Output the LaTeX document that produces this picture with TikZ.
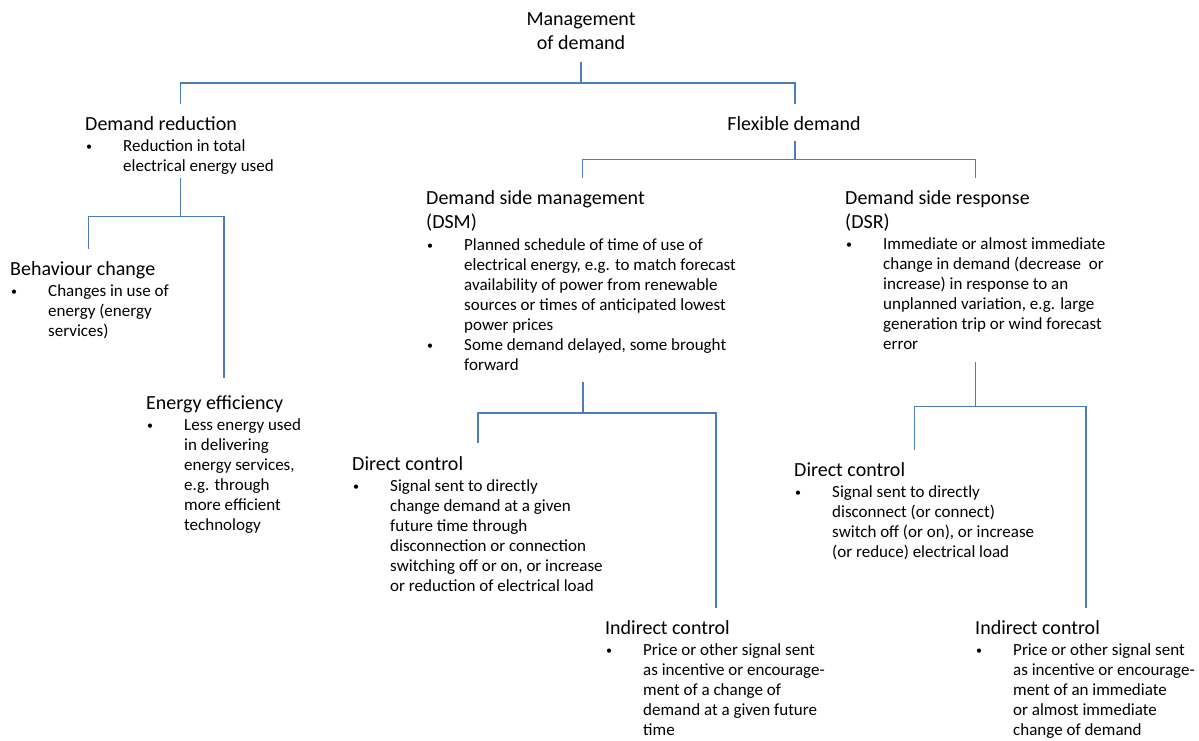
\documentclass[tikz,border=0pt]{standalone}
\usepackage{fontspec}
\setmainfont{Carlito}
\usetikzlibrary{positioning}
\definecolor{linkblue}{RGB}{74,126,187}
\newcommand{\itm}{\makebox[38pt][l]{\hspace{1pt}\raisebox{1pt}{\fontsize{12}{20}\selectfont\textbullet}}}
\newcommand{\blk}[1]{\begin{tabular}[t]{@{}l@{}l@{}}#1\end{tabular}}

\begin{document}
\begin{tikzpicture}[x=1pt,y=-1pt,
            head node/.style={inner sep=0pt,anchor=base west,font=\fontsize{20}{24}\selectfont},
            body node/.style={inner sep=0pt,anchor=base west,font=\fontsize{17}{20}\selectfont},
            link/.style={draw=linkblue,line width=1.8pt}]

            \useasboundingbox (0,0) rectangle (1199,740);

            \node[head node,anchor=base] (Mgmt) at (581,25) {\begin{tabular}[t]{@{}c@{}}Management\\of demand\end{tabular}};

            \node[head node] (Red) at (85,130) {Demand reduction};
            \node[body node] (RedTxt) at (85,151) {\blk{\itm & Reduction in total\\ & electrical energy used}};

            \node[head node] (Beh) at (10,275) {Behaviour change};
            \node[body node] (BehTxt) at (10,296) {\blk{\itm & Changes in use of\\ & energy (energy\\ & services)}};

            \node[head node] (Eff) at (146,409) {Energy efficiency};
            \node[body node] (EffTxt) at (146,430) {\blk{\itm & Less energy used\\ & in delivering\\ & energy services,\\ & e.g. through\\ & more efficient\\ & technology}};

            \node[head node,anchor=base] (Flex) at (794,130) {Flexible demand};

            \node[head node] (DSM) at (426,204) {\blk{Demand side management\\(DSM)}};
            \node[body node] (DSMTxt) at (426,250) {\blk{\itm & Planned schedule of time of use of\\ & electrical energy, e.g. to match forecast\\ & availability of power from renewable\\ & sources or times of anticipated lowest\\ & power prices\\ \itm & Some demand delayed, some brought\\ & forward}};

            \node[head node] (DSR) at (845,204) {\blk{Demand side response\\(DSR)}};
            \node[body node] (DSRTxt) at (845,249) {\blk{\itm & Immediate or almost immediate\\ & change in demand (decrease\ \ or\\ & increase) in response to an\\ & unplanned variation, e.g. large\\ & generation trip or wind forecast\\ & error}};

            \node[head node] (DirL) at (352,470) {Direct control};
            \node[body node] (DirLTxt) at (352,491) {\blk{\itm & Signal sent to directly\\ & change demand at a given\\ & future time through\\ & disconnection or connection\\ & switching off or on, or increase\\ & or reduction of electrical load}};

            \node[head node] (IndL) at (605,634) {Indirect control};
            \node[body node] (IndLTxt) at (605,655) {\blk{\itm & Price or other signal sent\\ & as incentive or encourage-\\ & ment of a change of\\ & demand at a given future\\ & time}};

            \node[head node] (DirR) at (794,476) {Direct control};
            \node[body node] (DirRTxt) at (794,497) {\blk{\itm & Signal sent to directly\\ & disconnect (or connect)\\ & switch off (or on), or increase\\ & (or reduce) electrical load}};

            \node[head node] (IndR) at (975,634) {Indirect control};
            \node[body node] (IndRTxt) at (975,655) {\blk{\itm & Price or other signal sent\\ & as incentive or encourage-\\ & ment of an immediate\\ & or almost immediate\\ & change of demand}};

            % stems and branch ends of the tree
            \coordinate (Mgmt-s) at (581,62);
            \coordinate (Red-n) at (180.5,104);
            \coordinate (Flex-n) at (795,104);
            \coordinate (Red-s) at (180.5,178);
            \coordinate (Beh-n) at (88.5,249);
            \coordinate (Eff-n) at (224,378);
            \coordinate (Flex-s) at (795,141);
            \coordinate (DSM-n) at (582.5,178);
            \coordinate (DSR-n) at (975.5,178);
            \coordinate (DSM-s) at (583,382);
            \coordinate (DirL-n) at (478,443);
            \coordinate (IndL-n) at (716,608);
            \coordinate (DSR-s) at (975.5,362);
            \coordinate (DirR-n) at (914.5,450);
            \coordinate (IndR-n) at (1086,608);

            \draw[link] (Mgmt-s) -- ++(0,21) -| (Red-n);
            \draw[link] (Mgmt-s) -- ++(0,21) -| (Flex-n);

            \draw[link] (Red-s) -- ++(0,38.5) -| (Beh-n);
            \draw[link] (Red-s) -- ++(0,38.5) -| (Eff-n);

            \draw[link] (Flex-s) -- ++(0,18.5) -| (DSM-n);
            \draw[link] (Flex-s) -- ++(0,18.5) -| (DSR-n);

            \draw[link] (DSM-s) -- ++(0,31) -| (DirL-n);
            \draw[link] (DSM-s) -- ++(0,31) -| (IndL-n);

            \draw[link] (DSR-s) -- ++(0,44.5) -| (DirR-n);
            \draw[link] (DSR-s) -- ++(0,44.5) -| (IndR-n);

\end{tikzpicture}
\end{document}
